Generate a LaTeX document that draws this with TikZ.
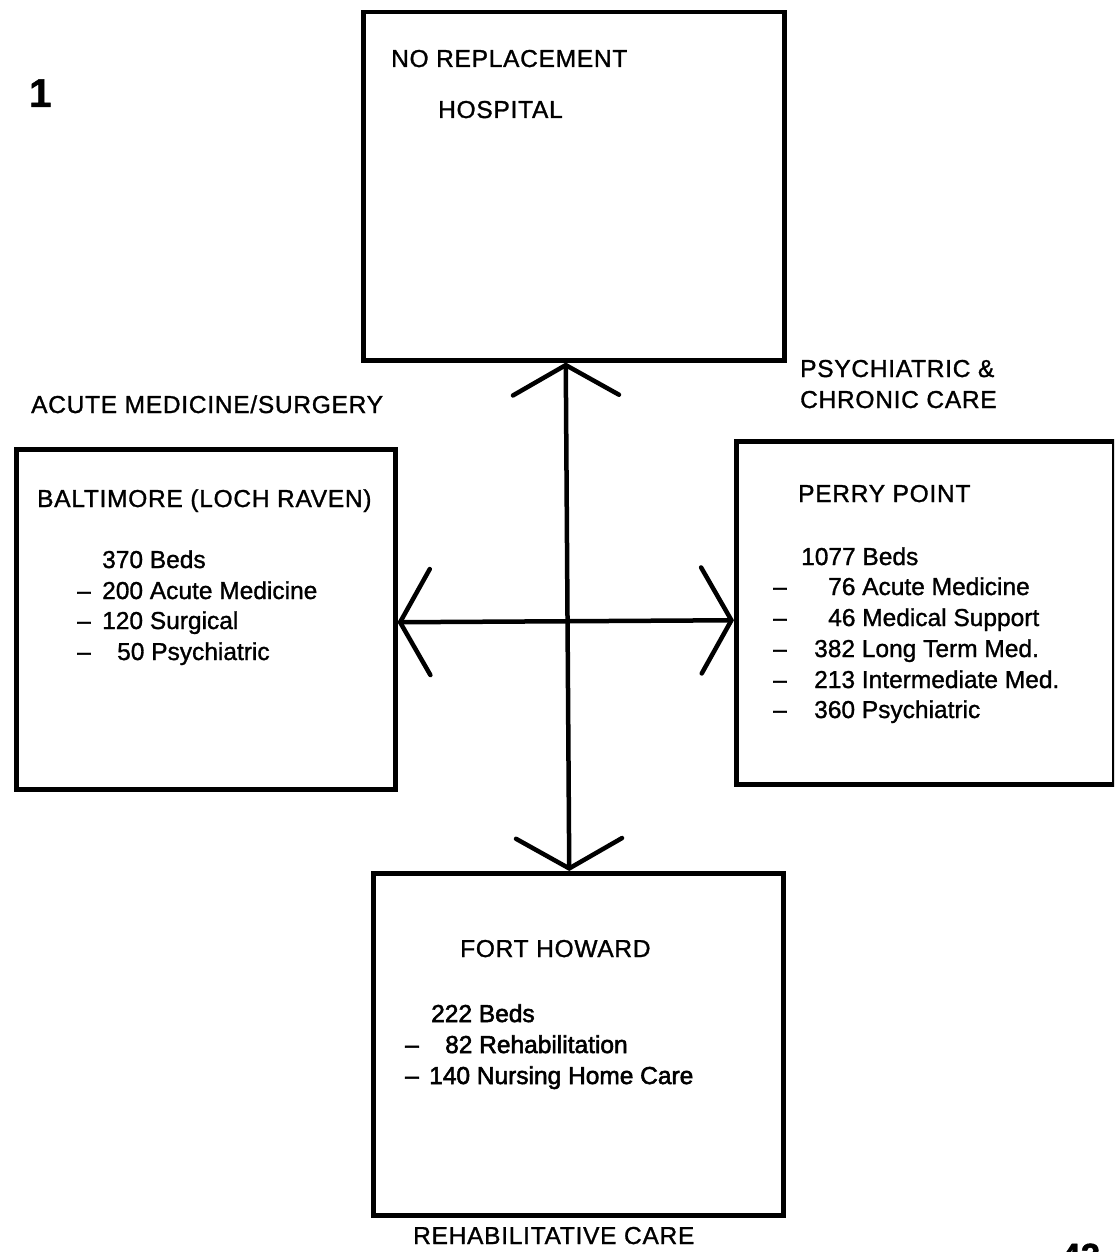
\documentclass[tikz,border=0pt]{standalone}
\usepackage{fontspec}
\setmainfont{Liberation Sans}[FakeBold=1.2]
\newfontfamily\capsf{Liberation Sans}[LetterSpace=3,FakeBold=1.2]
\newfontfamily\heavyf{Liberation Sans}[FakeBold=2.2]
\usetikzlibrary{arrows.meta,calc}
\begin{document}
\begin{tikzpicture}[x=1pt,y=-1pt,
  box/.style={draw,line width=4.5pt,anchor=north west,inner sep=0pt},
  txt/.style={anchor=base west,inner sep=0pt,font=\fontsize{24.5}{29}\selectfont},
  heavytxt/.style={anchor=base west,inner sep=0pt,font=\heavyf\fontsize{24.5}{29}\selectfont},
  captxt/.style={anchor=base west,inner sep=0pt,font=\capsf\fontsize{24.5}{29}\selectfont},
  link/.style={line width=4.5pt,
    {Straight Barb[length=30pt,width=106pt,line cap=round]}-{Straight Barb[length=30pt,width=106pt,line cap=round]}}]
\useasboundingbox (0,0) rectangle (1114,1252);
\clip (0,0) rectangle (1114,1252);
% boxes
\node[box,minimum width=421pt,minimum height=348pt] (top) at (361,10) {};
\node[box,minimum width=379pt,minimum height=340pt] (left) at (14,447) {};
\node[box,minimum width=378pt,minimum height=343pt] (right) at (734,439) {};
\node[box,minimum width=410pt,minimum height=342pt] (bot) at (371,871) {};
% connectors
\draw[link] ($(top.south)+(-8,0)$) -- ($(bot.north)+(-9,0)$);
\draw[link] ($(left.east)+(0,3)$) -- ($(right.west)+(0,7.5)$);
% labels
\node[anchor=base west,inner sep=0pt,font=\bfseries\fontsize{40}{40}\selectfont] (one) at (29,107) {1};
\node[captxt] (t1) at (391,67) {NO REPLACEMENT};
\node[captxt] (t2) at (438,118) {HOSPITAL};
\node[captxt] (psy1) at (800,377) {PSYCHIATRIC \&};
\node[captxt] (psy2) at (800,408) {CHRONIC CARE};
\node[captxt] (acu) at (31,413) {ACUTE MEDICINE/SURGERY};
\node[captxt] (bal) at (37,507) {BALTIMORE (LOCH RAVEN)};
\node[txt] (b0) at (102,568) {370 Beds};
\node[txt] (bd1) at (77,599) {–};
\node[txt] (b1) at (102,599) {200 Acute Medicine};
\node[txt] (bd2) at (77,629) {–};
\node[txt] (b2) at (102,629) {120 Surgical};
\node[txt] (bd3) at (77,660) {–};
\node[txt] (b3) at (117,660) {50 Psychiatric};
\node[captxt] (pp) at (798,502) {PERRY POINT};
\node[txt] (p0) at (801,565) {1077 Beds};
\node[txt] (pd1) at (773,595) {–};
\node[txt] (p1) at (828,595) {76 Acute Medicine};
\node[txt] (pd2) at (773,626) {–};
\node[txt] (p2) at (828,626) {46 Medical Support};
\node[txt] (pd3) at (773,657) {–};
\node[txt] (p3) at (814,657) {382 Long Term Med.};
\node[txt] (pd4) at (773,688) {–};
\node[txt] (p4) at (814,688) {213 Intermediate Med.};
\node[txt] (pd5) at (773,718) {–};
\node[txt] (p5) at (814,718) {360 Psychiatric};
\node[captxt] (fh) at (460,957) {FORT HOWARD};
\node[heavytxt] (f0) at (431,1022) {222 Beds};
\node[heavytxt] (fd1) at (405,1053) {–};
\node[heavytxt] (f1) at (445,1053) {82 Rehabilitation};
\node[heavytxt] (fd2) at (405,1084) {–};
\node[heavytxt] (f2) at (429,1084) {140 Nursing Home Care};
\node[captxt] (rc) at (413,1244) {REHABILITATIVE CARE};
\node[anchor=base west,inner sep=0pt,font=\bfseries\fontsize{35}{35}\selectfont] (n42) at (1061,1268) {42};
\end{tikzpicture}
\end{document}
